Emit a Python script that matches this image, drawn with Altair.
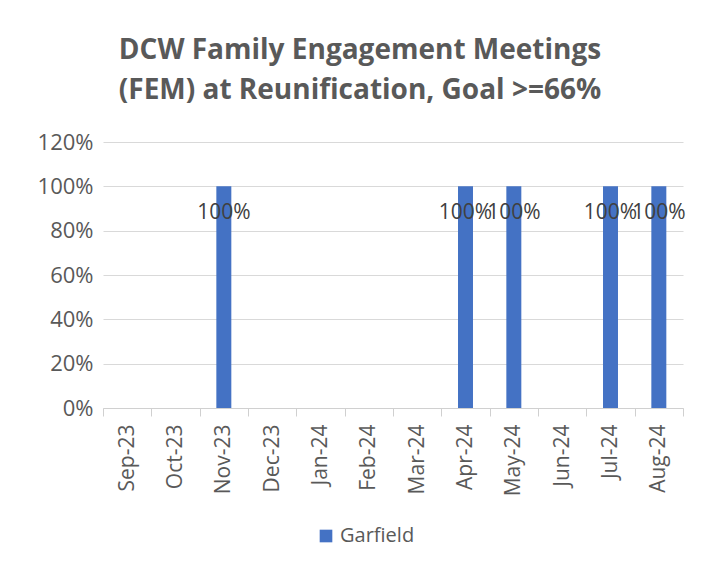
import altair as alt
import pandas as pd

months = ["Sep-23", "Oct-23", "Nov-23", "Dec-23", "Jan-24", "Feb-24",
          "Mar-24", "Apr-24", "May-24", "Jun-24", "Jul-24", "Aug-24"]
values = [None, None, 1.0, None, None, None, None, 1.0, 1.0, None, 1.0, 1.0]
series = "Garfield"

df = pd.DataFrame({"month": months, "value": values, "series": series})

x_enc = alt.X("month:N", sort=months, title=None,
              scale=alt.Scale(paddingInner=0, paddingOuter=0),
              axis=alt.Axis(labelAngle=270, labelFont="Open Sans", labelFontSize=21,
                            labelColor="#595959", tickBand="extent", tickSize=8,
                            tickColor="#d0d0d0", domainColor="#d0d0d0",
                            labelPadding=8, grid=False))
y_enc = alt.Y("value:Q", title=None,
              scale=alt.Scale(domain=[0, 1.2]),
              axis=alt.Axis(values=[0, 0.2, 0.4, 0.6, 0.8, 1.0, 1.2], format=".0%",
                            labelFont="Open Sans", labelFontSize=22, labelColor="#595959",
                            domain=False, ticks=False, gridColor="#d9d9d9",
                            labelPadding=10))

bars = alt.Chart(df).mark_bar(width=alt.RelativeBandSize(0.31)).encode(
    x=x_enc, y=y_enc,
    color=alt.Color("series:N", title=None,
                    scale=alt.Scale(range=["#4472C4"]),
                    legend=alt.Legend(orient="none", legendX=213, legendY=384,
                                      symbolType="square", symbolSize=160,
                                      labelFont="Open Sans", labelFontSize=20,
                                      labelColor="#595959", symbolStrokeWidth=0)),
)

labels = alt.Chart(df).transform_filter("datum.value != null").mark_text(
    font="Open Sans", fontSize=21, color="#404040", baseline="middle", dy=27
).encode(x=alt.X("month:N", sort=months), y="value:Q",
         text=alt.Text("value:Q", format=".0%"))

chart = (bars + labels).properties(
    width=580, height=266,
    title=alt.TitleParams(
        text=["DCW Family Engagement Meetings", "(FEM) at Reunification, Goal >=66%"],
        font="Open Sans", fontSize=28, fontWeight="bold", color="#595959",
        anchor="middle", dx=-33, lineHeight=40, offset=26),
    autosize=alt.AutoSizeParams(type="none"),
    padding={"left": 95, "top": 134, "right": 22, "bottom": 150},
).configure(background="white").configure_view(stroke=None).configure_axisX(grid=False)

chart.save("out.html", embed_options={"renderer": "svg", "actions": False})
